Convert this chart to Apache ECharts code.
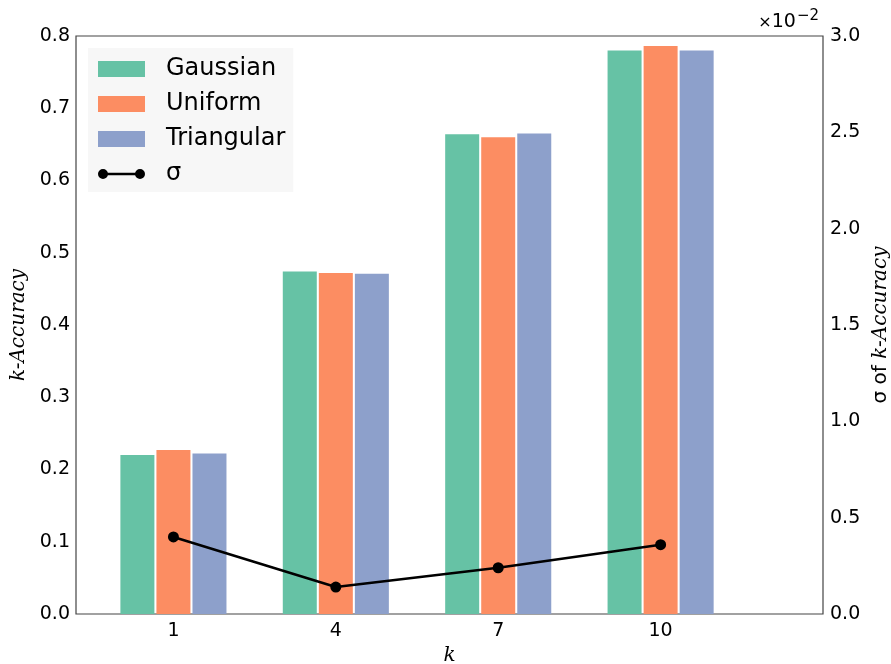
<!DOCTYPE html>
<html>
<head>
<meta charset="utf-8">
<script src="https://cdn.jsdelivr.net/npm/echarts@6/dist/echarts.min.js"></script>
<style>html,body{margin:0;padding:0;background:#fff}#c{width:891px;height:664px}</style>
</head>
<body>
<div id="c"></div>
<script>
var kValues = [1, 4, 7, 10];
var gaussian = [0.220, 0.474, 0.664, 0.780];
var uniform = [0.227, 0.472, 0.660, 0.786];
var triangular = [0.222, 0.471, 0.665, 0.780];
var sigma = [0.40, 0.14, 0.24, 0.36]; // x 10^-2
var leftTicks = [0, 0.8, 0.1];
var rightTicks = [0, 3.0, 0.5];

function pairs(vals) { return kValues.map(function (k, i) { return [k, vals[i]]; }); }

var chart = echarts.init(document.getElementById('c'), null, {renderer: 'canvas'});
var sans = 'DejaVu Sans';
var serif = 'DejaVu Serif';
var sigmaIcon = 'path://M0,8 A5,5 0 1,1 10,8 A5,5 0 1,1 0,8 Z M37,8 A5,5 0 1,1 47,8 A5,5 0 1,1 37,8 Z M5,6.8 L42,6.8 L42,9.2 L5,9.2 Z';

chart.setOption({
  animation: false,
  grid: {left: 76, top: 36, right: 68, bottom: 50, outerBoundsMode: 'none', containLabel: false,
         show: true, borderColor: '#444', borderWidth: 1.2, backgroundColor: 'transparent'},
  legend: {
    orient: 'vertical', left: 88, top: 48,
    backgroundColor: '#f7f7f7',
    padding: [9, 8, 6, 10],
    itemWidth: 47, itemHeight: 16, itemGap: 11,
    textStyle: {fontFamily: sans, fontSize: 24, color: '#000', padding: [0, 0, 0, 16]},
    data: [
      {name: 'Gaussian', icon: 'rect'},
      {name: 'Uniform', icon: 'rect'},
      {name: 'Triangular', icon: 'rect'},
      {name: 'σ', icon: sigmaIcon, itemStyle: {color: '#000', borderWidth: 0}}
    ]
  },
  xAxis: {
    type: 'value', min: -0.8, max: 13.0,
    name: 'k', nameLocation: 'middle', nameGap: 32,
    nameTextStyle: {fontFamily: serif, fontStyle: 'italic', fontSize: 20, color: '#000'},
    axisLine: {show: false}, axisTick: {show: false}, splitLine: {show: false},
    axisLabel: {customValues: kValues, fontFamily: sans, fontSize: 19, color: '#000', margin: 8}
  },
  yAxis: [
    {
      type: 'value', min: leftTicks[0], max: leftTicks[1], interval: leftTicks[2],
      name: 'k-Accuracy', nameLocation: 'middle', nameGap: 47, nameRotate: 90,
      nameTextStyle: {fontFamily: serif, fontStyle: 'italic', fontSize: 20, color: '#000'},
      axisLine: {show: false}, axisTick: {show: false}, splitLine: {show: false},
      axisLabel: {fontFamily: sans, fontSize: 19, color: '#000', margin: 6, formatter: function (v) { return v.toFixed(1); }}
    },
    {
      type: 'value', min: rightTicks[0], max: rightTicks[1], interval: rightTicks[2], position: 'right',
      name: '{n|σ of }{i|k-Accuracy}', nameLocation: 'middle', nameGap: 46, nameRotate: 90,
      nameTextStyle: {rich: {
        n: {fontFamily: sans, fontSize: 20, color: '#000'},
        i: {fontFamily: serif, fontStyle: 'italic', fontSize: 20, color: '#000'}
      }},
      axisLine: {show: false}, axisTick: {show: false}, splitLine: {show: false},
      axisLabel: {fontFamily: sans, fontSize: 19, color: '#000', margin: 7, formatter: function (v) { return v.toFixed(1); }}
    }
  ],
  graphic: [{
    type: 'text', right: 72, top: 9,
    style: {
      text: '{a|×}{b|10}{c|−2}',
      rich: {
        a: {fontFamily: sans, fontSize: 16, color: '#000', verticalAlign: 'bottom', padding: [0, 0, 1, 0]},
        b: {fontFamily: sans, fontSize: 19, color: '#000', verticalAlign: 'bottom'},
        c: {fontFamily: sans, fontSize: 15, color: '#000', verticalAlign: 'top', padding: [0, 0, 8, 1]}
      }
    }
  }],
  series: [
    {name: 'Gaussian', type: 'bar', data: pairs(gaussian), barWidth: 34, barGap: '6%', itemStyle: {color: '#66c2a5'}},
    {name: 'Uniform', type: 'bar', data: pairs(uniform), barWidth: 34, barGap: '6%', itemStyle: {color: '#fc8d62'}},
    {name: 'Triangular', type: 'bar', data: pairs(triangular), barWidth: 34, barGap: '6%', itemStyle: {color: '#8da0cb'}},
    {name: 'σ', type: 'line', yAxisIndex: 1, data: pairs(sigma), symbol: 'circle', symbolSize: 11,
     lineStyle: {color: '#000', width: 2.5}, itemStyle: {color: '#000'}, z: 5}
  ]
});
</script>
</body>
</html>
